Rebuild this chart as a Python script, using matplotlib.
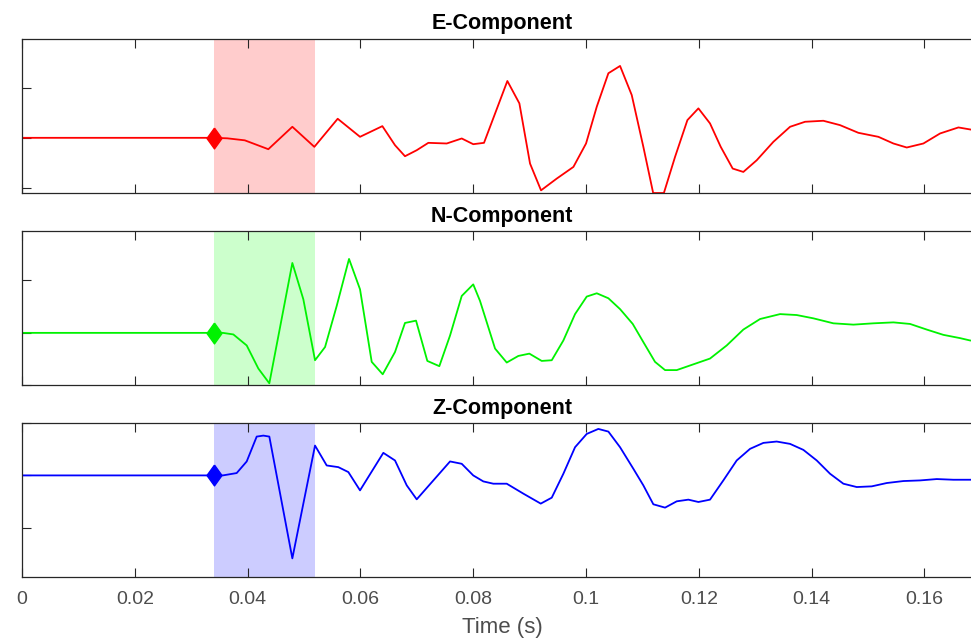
import numpy as np
import matplotlib
matplotlib.use("Agg")
from matplotlib import pyplot as plt

plt.rcParams['font.family'] = ['Liberation Sans', 'DejaVu Sans']

# picked window and onset (s)
onset = 0.034
win_end = 0.052
t_max = 0.1702

# E component (time s, amplitude)
t_E = [0.0, 0.034, 0.0364, 0.0395, 0.04367, 0.04793, 0.05183, 0.05597, 0.05993,
       0.06389, 0.06613, 0.0679, 0.06998, 0.07204, 0.0753, 0.07796, 0.08,
       0.08191, 0.08605, 0.08818, 0.09007, 0.09202, 0.0948, 0.09776, 0.1,
       0.1019, 0.10396, 0.10603, 0.1081, 0.11016, 0.1119, 0.1138, 0.11578,
       0.11797, 0.11992, 0.12198, 0.12388, 0.126, 0.12789, 0.13026, 0.13321,
       0.13617, 0.13883, 0.14207, 0.14503, 0.14828, 0.15183, 0.15449,
       0.15686, 0.15981, 0.16277, 0.16602, 0.16809, 0.1702]
a_E = [0.0, 0.0, -0.01, -0.05, -0.227, 0.22, -0.18, 0.38, 0.02,
       0.233, -0.147, -0.367, -0.247, -0.1, -0.113, -0.013, -0.127,
       -0.1, 1.133, 0.687, -0.513, -1.047, -0.813, -0.58, -0.113,
       0.62, 1.287, 1.433, 0.853, -0.18, -1.1, -1.1, -0.38,
       0.353, 0.587, 0.287, -0.18, -0.613, -0.68, -0.447, -0.08,
       0.22, 0.32, 0.34, 0.253, 0.1, 0.02, -0.113,
       -0.193, -0.113, 0.087, 0.207, 0.167, 0.12]

# N component
t_N = [0.0, 0.034, 0.0356, 0.03747, 0.03984, 0.0419, 0.04385, 0.04793, 0.04988,
       0.05195, 0.05373, 0.0558, 0.05798, 0.05993, 0.062, 0.06395, 0.06613,
       0.0679, 0.06986, 0.07186, 0.07399, 0.07589, 0.07796, 0.08, 0.0812,
       0.08387, 0.08594, 0.088, 0.08995, 0.09214, 0.09392, 0.09598, 0.09805,
       0.10012, 0.1019, 0.10396, 0.10603, 0.10828, 0.11016, 0.11223, 0.11401,
       0.11608, 0.11903, 0.12198, 0.12494, 0.12789, 0.13085, 0.1344, 0.13735,
       0.14031, 0.14385, 0.1474, 0.15094, 0.15449, 0.15745, 0.1604, 0.16335,
       0.1663, 0.16809, 0.1702]
a_N = [0.0, 0.0, 0.0, -0.03, -0.24, -0.68, -0.962, 1.333, 0.64,
       -0.522, -0.27, 0.516, 1.41, 0.83, -0.553, -0.79, -0.365,
       0.189, 0.233, -0.535, -0.635, -0.05, 0.704, 0.925, 0.61,
       -0.3, -0.566, -0.44, -0.396, -0.535, -0.522, -0.145, 0.358,
       0.692, 0.755, 0.66, 0.453, 0.17, -0.176, -0.553, -0.71,
       -0.71, -0.6, -0.49, -0.24, 0.063, 0.264, 0.358, 0.34,
       0.277, 0.182, 0.157, 0.182, 0.2, 0.17, 0.063, -0.038,
       -0.1, -0.145, -0.17]

# Z component
t_Z = [0.0, 0.034, 0.0356, 0.03806, 0.03984, 0.04161, 0.04279, 0.04385, 0.04793,
       0.05195, 0.05402, 0.05608, 0.05786, 0.05993, 0.06406, 0.06613, 0.06821,
       0.06998, 0.07293, 0.07589, 0.07796, 0.08, 0.08179, 0.08356, 0.08594,
       0.08889, 0.09197, 0.09392, 0.09598, 0.09805, 0.10012, 0.10218, 0.10396,
       0.10603, 0.10839, 0.11016, 0.11193, 0.11401, 0.11608, 0.11814, 0.11992,
       0.12198, 0.12434, 0.12671, 0.12908, 0.13144, 0.1338, 0.13617, 0.13853,
       0.1409, 0.14326, 0.14562, 0.14799, 0.15065, 0.15331, 0.15627, 0.15922,
       0.16218, 0.16513, 0.16809, 0.1702]
a_Z = [0.0, 0.0, 0.0, 0.045, 0.268, 0.745, 0.764, 0.745, -1.592,
       0.573, 0.191, 0.159, 0.064, -0.287, 0.433, 0.287, -0.191,
       -0.459, -0.096, 0.268, 0.223, 0.0, -0.115, -0.159, -0.159,
       -0.35, -0.541, -0.427, 0.032, 0.541, 0.796, 0.892, 0.841,
       0.541, 0.127, -0.191, -0.554, -0.618, -0.497, -0.465, -0.51,
       -0.465, -0.096, 0.287, 0.51, 0.624, 0.65, 0.605, 0.49,
       0.287, 0.032, -0.159, -0.223, -0.21, -0.146, -0.108, -0.096,
       -0.07, -0.083, -0.083, -0.08]

titles = ["E-Component", "N-Component", "Z-Component"]
line_cols = [(1, 0, 0), (0, 0.95, 0), (0, 0, 1)]
span_cols = [(1, 0.8, 0.8), (0.8, 1, 0.8), (0.8, 0.8, 1)]
ylims = [(-1.1, 1.97), (-0.962, 1.937), (-1.955, 0.985)]
traces = [(t_E, a_E), (t_N, a_N), (t_Z, a_Z)]

W, H = 971, 642
fig = plt.figure(figsize=(W / 100, H / 100), dpi=100)
tops = [39, 231.3, 423.3]
ax_h = 154
diamond = [(0, 1), (0.72, 0), (0, -1), (-0.72, 0), (0, 1)]
xt = np.arange(0, 0.161, 0.02).round(2)

for i in range(3):
    ax = fig.add_axes([22 / W, 1 - (tops[i] + ax_h) / H, 960 / W, ax_h / H])
    t, a = traces[i]
    ax.axvspan(onset, win_end, color=span_cols[i], lw=0, zorder=1)
    ax.plot(t, a, color=line_cols[i], lw=1.3, zorder=2)
    ax.plot([onset], [np.interp(onset, t, a)], marker=diamond, ms=15,
            color=line_cols[i], mec=line_cols[i], zorder=3)
    ax.set_xlim(0, t_max)
    ax.set_ylim(*ylims[i])
    ax.set_yticks([-1, 0, 1])
    ax.set_yticklabels([])
    ax.set_xticks(xt)
    ax.tick_params(direction='in', top=True, right=True, length=6.5,
                   width=0.8, color='#262626', labelsize=14,
                   labelcolor='#4d4d4d', pad=10)
    for s in ax.spines.values():
        s.set_color('#262626')
        s.set_linewidth(0.9)
    ax.set_title(titles[i], fontsize=15.5, fontweight='bold', pad=7)
    if i < 2:
        ax.set_xticklabels([])
    else:
        ax.set_xticklabels(['%g' % v for v in xt])
        ax.set_xlabel("Time (s)", fontsize=16, color='#4d4d4d', labelpad=6)

fig.savefig("out.png", dpi=100)
